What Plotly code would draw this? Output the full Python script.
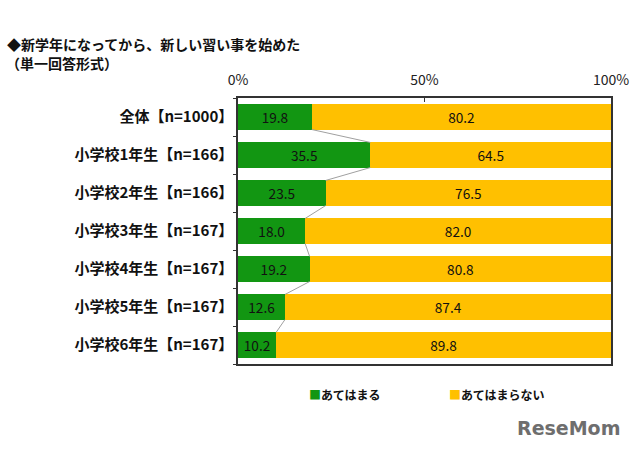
import plotly.graph_objects as go

categories = ["全体【n=1000】", "小学校1年生【n=166】", "小学校2年生【n=166】", "小学校3年生【n=167】",
              "小学校4年生【n=167】", "小学校5年生【n=167】", "小学校6年生【n=167】"]
yes_vals = [19.8, 35.5, 23.5, 18.0, 19.2, 12.6, 10.2]
no_vals = [80.2, 64.5, 76.5, 82.0, 80.8, 87.4, 89.8]
series_names = ["あてはまる", "あてはまらない"]
x_ticks = [0, 50, 100]
x_ticklabels = ["0%", "50%", "100%"]

GREEN = "#129612"
YELLOW = "#FFC000"
FONT = "Noto Sans CJK JP"

ypos = list(range(len(categories)))
bw = 0.66

fig = go.Figure()
for vals, name, col in [(yes_vals, series_names[0], GREEN), (no_vals, series_names[1], YELLOW)]:
    fig.add_trace(go.Bar(y=ypos, x=vals, orientation="h", name=name,
                         marker=dict(color=col, line=dict(width=0)), width=bw,
                         text=[f"{v:.1f}" for v in vals], textposition="inside",
                         insidetextanchor="middle", textfont=dict(color="#111111", size=15, family=FONT),
                         hoverinfo="skip", showlegend=False))

for i in range(len(yes_vals) - 1):
    fig.add_shape(type="line", x0=yes_vals[i], y0=i + bw / 2, x1=yes_vals[i + 1], y1=i + 1 - bw / 2,
                  xref="x", yref="y", line=dict(color="#a0a0a0", width=1))

L, R, T, B = 238, 29, 98, 87
pw = 640 - L - R
ph = 451 - T - B


def px(x):
    return (x - L) / pw


def py(y):
    return (451 - y - B) / ph


legend_anns = []
for name, col, x0 in [(series_names[0], GREEN, 307), (series_names[1], YELLOW, 447)]:
    legend_anns.append(dict(
        text=f"<span style='color:{col}'>■</span><b>{name}</b>", x=px(x0), y=py(394),
        xref="paper", yref="paper", showarrow=False, xanchor="left", yanchor="middle",
        font=dict(size=12, family=FONT, color="#111111")))

fig.update_layout(
    barmode="stack",
    width=640, height=451,
    margin=dict(l=L, r=R, t=T, b=B),
    paper_bgcolor="white", plot_bgcolor="white",
    font=dict(family=FONT, color="#111111"),
    uniformtext=dict(mode="show", minsize=10),
    showlegend=False,
    xaxis=dict(range=[0, 100], side="top", tickvals=x_ticks, ticktext=x_ticklabels,
               ticks="inside", ticklen=4, tickcolor="#333333", showgrid=False, zeroline=False,
               showline=True, linecolor="#333333", linewidth=1.5, mirror=True, ticklabelstandoff=6,
               tickfont=dict(size=14, family=FONT, color="#222222"), fixedrange=True),
    yaxis=dict(range=[len(categories) - 0.5, -0.5], tickvals=ypos,
               ticktext=["<b>" + c + "</b>" for c in categories],
               ticks="", showgrid=False, zeroline=False,
               showline=True, linecolor="#333333", linewidth=1.5, mirror=True,
               tickfont=dict(size=15, family=FONT, color="#111111"), ticklabelstandoff=0,
               minor=dict(tick0=0.5, dtick=1, ticks="outside", ticklen=3, tickcolor="#333333"),
               fixedrange=True),
    annotations=[
        dict(text="<b>◆新学年になってから、新しい習い事を始めた</b>", x=px(5), y=py(44),
             xref="paper", yref="paper", showarrow=False, xanchor="left", yanchor="middle",
             font=dict(size=14, family=FONT, color="#111111")),
        dict(text="<b>（単一回答形式）</b>", x=px(4), y=py(63), xref="paper", yref="paper",
             showarrow=False, xanchor="left", yanchor="middle",
             font=dict(size=14, family=FONT, color="#111111")),
        dict(text="<b>ReseMom</b>", x=px(622), y=py(428), xref="paper", yref="paper",
             showarrow=False, xanchor="right", yanchor="middle",
             font=dict(size=19, family="DejaVu Sans", color="#6e6e6e")),
    ] + legend_anns,
)

fig.write_html("out.html")
